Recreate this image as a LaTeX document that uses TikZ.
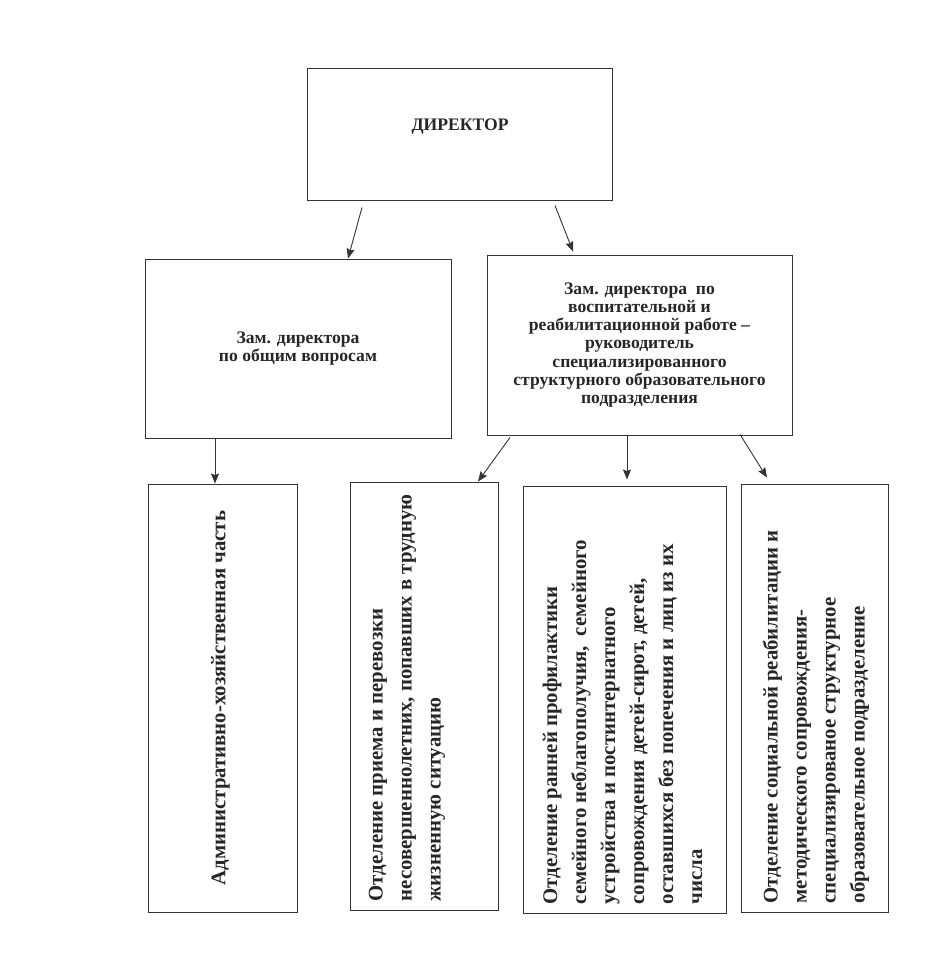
\documentclass[tikz,border=0pt]{standalone}
\usepackage{fontspec}
\setmainfont{Liberation Serif}
\usetikzlibrary{positioning,arrows.meta,calc}
\tikzset{box/.style={rectangle,draw=black!80,line width=0.9pt,inner sep=0pt},
         edge/.style={->,draw=black!80,line width=0.9pt},
         head/.style={align=center,text=black!85,font=\bfseries\fontsize{17.6}{18.1}\selectfont},
         vlbl/.style={rotate=90,anchor=north west,inner sep=0pt,align=left,text=black!85,
                      font=\bfseries\fontsize{20.8}{29}\selectfont}
}

\begin{document}
\begin{tikzpicture}[x=1pt,y=-1pt,>={Stealth[length=10pt,width=8pt,inset=1.5pt]}]
  \useasboundingbox (0,0) rectangle (948,960);
  % director
  \node[box, minimum width=305, minimum height=132] (dir) at (459.5,134) {};
  \node[head] (tdir) at (460,127) {ДИРЕКТОР};
  % deputies
  \node[box, head, minimum width=306, minimum height=179] (zamL) at (298,348.5)
       {Зам. директора\\ по общим вопросам};
  \node[box, head, minimum width=305, minimum height=180] (zamR) at (639.5,345)
       {Зам. директора~ по\\ воспитательной и\\ реабилитационной работе --\\ руководитель\\
        специализированного\\ структурного образовательного\\ подразделения};
  % departments
  \node[box, minimum width=149, minimum height=428] (b1) at (222.5,698) {};
  \node[box, minimum width=148, minimum height=428] (b2) at (424,696) {};
  \node[box, minimum width=203, minimum height=427] (b3) at (624.5,699.5) {};
  \node[box, minimum width=147, minimum height=428] (b4) at (814.5,698) {};
  \node[vlbl, anchor=center] (t1) at ([xshift=-2]b1.center) {Административно-хозяйственная часть};
  \node[vlbl] (t2) at ([xshift=19,yshift=9]b2.south west)
       {Отделение приема и перевозки\\ несовершеннолетних, попавших в трудную\\ жизненную ситуацию};
  \node[vlbl] (t3) at ([xshift=20,yshift=9]b3.south west)
       {Отделение ранней профилактики\\ семейного неблагополучия,~ семейного\\ устройства и постинтернатного\\
        сопровождения детей-сирот, детей,\\ оставшихся без попечения и лиц из их\\ числа};
  \node[vlbl] (t4) at ([xshift=22,yshift=9]b4.south west)
       {Отделение социальной реабилитации и\\ методического сопровождения-\\ специализированое структурное\\
        образовательное подразделение};
  % arrows
  \draw[edge] ([xshift=-97.5,yshift=-7]dir.south) -- ([xshift=50]zamL.north);
  \draw[edge] ([xshift=95.5,yshift=-5]dir.south) -- ([xshift=-66.5,yshift=3]zamR.north);
  \draw[edge] ([xshift=-83]zamL.south) -- ([xshift=-7.5]b1.north);
  \draw[edge] ([xshift=-129.5,yshift=-2]zamR.south) -- ([xshift=54]b2.north);
  \draw[edge] ([xshift=-12.5]zamR.south) -- ([xshift=2.5,yshift=6]b3.north);
  \draw[edge] ([xshift=100.5,yshift=1]zamR.south) -- ([xshift=-47.5,yshift=6]b4.north);
\end{tikzpicture}
\end{document}
